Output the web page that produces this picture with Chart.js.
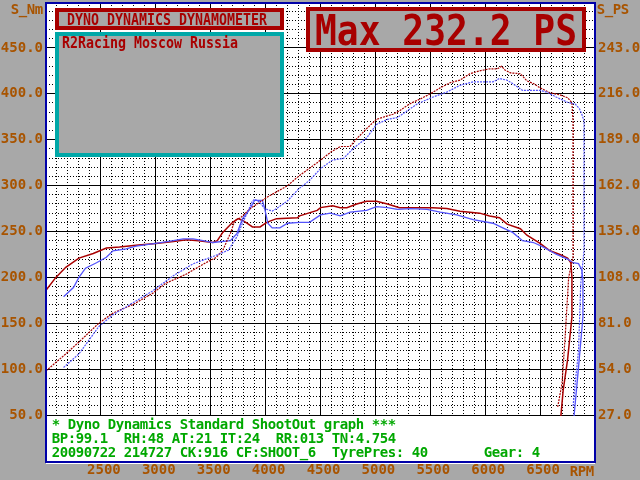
<!DOCTYPE html>
<html>
<head>
<meta charset="utf-8">
<script src="https://cdn.jsdelivr.net/npm/chart.js@4.4.0/dist/chart.umd.min.js"></script>
<style>
  html, body { margin: 0; padding: 0; background: #a8a8a8; }
</style>
</head>
<body>
<canvas id="dyno" width="640" height="480"></canvas>
<script>
// axis ranges
const rpmMin = 2000, rpmMax = 7000;
const nmMax = 500, psMax = 270;

// red run, torque (Nm) - solid
const redTqRpm = [2000,2090,2180,2300,2430,2550,2670,2820,3000,3160,3280,3390,3520,3560,3610,3700,3750,3790,3830,3880,3950,4010,4100,4290,4310,4470,4500,4610,4680,4740,4830,4920,5010,5110,5220,5410,5520,5650,5770,5950,6040,6130,6200,6320,6380,6500,6590,6680,6750,6780,6790,6790,6750,6710,6690,6680];
const redTqNm  = [186,200,211,221,226,232,233,235,237,239,241,240,238,240,249,260,264,262,259,255,255,260,264,265,267,273,276,278,276,276,280,283,283,280,276,276,276,275,272,270,267,265,258,253,246,237,229,225,221,216,200,157,110,77,50,40];

// blue run, torque (Nm) - solid
const blueTqRpm = [2160,2250,2300,2360,2460,2550,2610,2730,2820,3000,3160,3250,3340,3430,3520,3680,3740,3790,3860,3900,3970,3990,4020,4060,4130,4200,4310,4400,4500,4590,4680,4770,4920,5010,5110,5200,5320,5470,5590,5740,5890,6070,6160,6250,6340,6440,6530,6650,6750,6800,6850,6880,6890,6890,6850,6810,6800];
const blueTqNm  = [179,189,200,210,216,222,229,231,234,237,240,242,242,240,238,240,248,264,275,284,284,276,259,254,254,259,260,260,268,270,267,271,273,277,276,274,275,274,271,268,263,259,254,249,240,238,233,225,220,216,215,208,197,157,102,50,40];

// red run, power (PS) - dotted
const redPwRpm = [2000,2180,2300,2480,2610,2790,2970,3090,3280,3460,3550,3610,3680,3720,3770,3860,4010,4200,4310,4470,4600,4680,4770,4830,4920,5010,5110,5160,5220,5310,5410,5500,5590,5680,5770,5860,5950,6040,6110,6150,6180,6230,6290,6320,6380,6440,6500,6590,6680,6750,6790,6800,6800,6760,6730,6700,6660];
const redPwPs  = [53,63,70,81,87,92,98.6,104.5,110,116.8,119.7,124,134,141.5,143,148.5,155,162,168,175.5,182,185,185,189.6,195.5,201,203,204,206,210,213,216,219.5,222.5,224,227.8,229.5,230.7,230.7,232.2,230,228.3,228,227.8,223.6,222,219.5,216.6,215.4,213.7,210.7,200,120,108,75,45.8,31.7];

// blue run, power (PS) - dotted
const bluePwRpm = [2160,2300,2480,2610,2790,2970,3160,3340,3550,3660,3740,3790,3840,3880,3900,3950,3990,4060,4100,4200,4300,4400,4500,4610,4710,4800,4920,5010,5110,5200,5290,5380,5520,5650,5770,5890,6070,6130,6200,6250,6340,6410,6500,6560,6650,6750,6820,6860,6880,6900,6900,6870,6850,6820,6800];
const bluePwPs  = [55,63,79,86,93,100,109,116,121,124,132,140,147,153,154,152,148.5,147,148.5,153,160,165,172,177,178,184,190,198,201,202,206,210,214,217,221,223,223,225,224,222,218,218,218,217,214,211,210,207,204,200,124,104,65,46,32];

// texts
const titleText = 'DYNO DYNAMICS DYNAMOMETER';
const customerText = 'R2Racing Moscow Russia';
const maxText = 'Max 232.2 PS';
const infoLines = [
  '* Dyno Dynamics Standard ShootOut graph ***',
  'BP:99.1  RH:48 AT:21 IT:24  RR:013 TN:4.754',
  '20090722 214727 CK:916 CF:SHOOT_6  TyrePres: 40       Gear: 4'
];

const RED = '#a80000', BLUE = '#5454fc', GREEN = '#00a800', TEAL = '#00a8a8';
const BROWN = '#a85400', FRAME = '#0000a8', GREY = '#a8a8a8';
const MONO = '"DejaVu Sans Mono", monospace';

function pts(xs, ys){
  return xs.map((x, i) => ({x: x, y: ys[i]}));
}

// draw text on a fixed 8px character grid, like the dyno screen
function monoText(ctx, text, x0, base, pitch){
  ctx.textAlign = 'center';
  for(let i = 0; i < text.length; i++){
    if(text[i] !== ' ') ctx.fillText(text[i], x0 + i*pitch + pitch/2, base);
  }
}

function box(ctx, x, y, w, h, bw, col){
  ctx.fillStyle = col;
  ctx.fillRect(x, y, w, h);
  ctx.fillStyle = GREY;
  ctx.fillRect(x+bw, y+bw, w-2*bw, h-2*bw);
}

function noPad(s){
  s.paddingTop = 0; s.paddingBottom = 0;
  s.paddingLeft = 0; s.paddingRight = 0;
}

const dynoDecor = {
  id: 'dynoDecor',
  beforeDraw(chart){
    const {ctx, chartArea: a} = chart;
    ctx.save();
    ctx.fillStyle = GREY;
    ctx.fillRect(0, 0, chart.width, chart.height);
    ctx.fillStyle = '#ffffff';
    ctx.fillRect(a.left, a.top, a.right - a.left, a.bottom - a.top);
    ctx.restore();
  },
  afterDatasetsDraw(chart){
    const {ctx, chartArea: a, scales} = chart;
    const y50 = Math.round(scales.y.getPixelForValue(50));
    ctx.save();

    // info panel at the bottom
    ctx.fillStyle = '#ffffff';
    ctx.fillRect(a.left, y50 + 1, a.right - a.left, a.bottom - y50 + 2);
    ctx.fillStyle = GREEN;
    ctx.font = 'bold 14px ' + MONO;
    ctx.textBaseline = 'alphabetic';
    infoLines.forEach((l, i) => monoText(ctx, l, 52, 429 + i*14, 8));

    // header boxes
    box(ctx, 55, 8, 229, 22, 4, RED);
    box(ctx, 55, 32, 229, 125, 4, TEAL);
    box(ctx, 306, 7, 280, 45, 4, RED);
    ctx.fillStyle = RED;
    ctx.textAlign = 'left';
    ctx.font = 'bold 16px ' + MONO;
    ctx.fillText(titleText, 67, 25, 200);
    ctx.font = 'bold 15px ' + MONO;
    ctx.fillText(customerText, 62, 48, 176);
    ctx.font = 'bold 42px ' + MONO;
    ctx.fillText(maxText, 315, 45, 262);

    // blue frame
    ctx.strokeStyle = FRAME;
    ctx.lineWidth = 2;
    ctx.strokeRect(46, 3, 549, 459);

    // axis names
    ctx.fillStyle = BROWN;
    ctx.font = 'bold 14px ' + MONO;
    monoText(ctx, 'S_Nm', 11, 14, 8);
    monoText(ctx, 'S_PS', 597, 14, 8);
    monoText(ctx, 'RPM', 570, 476, 8);
    ctx.restore();
  }
};

const tickFont = {family: 'DejaVu Sans Mono', size: 14, weight: 'bold'};
const minorDash = c => (c.tick && Math.round(c.tick.value) % (c.scale.axis === 'x' ? 500 : 50) !== 0) ? [1, 2] : [];

const ctx = document.getElementById('dyno').getContext('2d');
new Chart(ctx, {
  type: 'line',
  data: {
    datasets: [
      {data: pts(bluePwRpm, bluePwPs), yAxisID: 'y1', borderColor: BLUE, borderWidth: 1.2, borderDash: [2, 1]},
      {data: pts(redPwRpm, redPwPs), yAxisID: 'y1', borderColor: RED, borderWidth: 1.2, borderDash: [2, 1]},
      {data: pts(blueTqRpm, blueTqNm), yAxisID: 'y', borderColor: BLUE, borderWidth: 1.3},
      {data: pts(redTqRpm, redTqNm), yAxisID: 'y', borderColor: RED, borderWidth: 1.5}
    ]
  },
  options: {
    responsive: false,
    animation: false,
    devicePixelRatio: 1,
    layout: {padding: {top: 2, left: 0, right: 0, bottom: 0}},
    elements: {point: {radius: 0}, line: {tension: 0, fill: false}},
    plugins: {legend: {display: false}, tooltip: {enabled: false}},
    scales: {
      x: {
        type: 'linear', min: rpmMin, max: rpmMax,
        afterFit: s => { s.height = 19; noPad(s); },
        ticks: {
          stepSize: 100, autoSkip: false, maxRotation: 0, minRotation: 0,
          padding: 1, labelOffset: 3, color: BROWN, font: tickFont,
          callback: v => (v % 500 === 0 && v > rpmMin && v < rpmMax) ? String(v) : ''
        },
        grid: {color: '#000000', lineWidth: 1, drawTicks: false},
        border: {display: false, dash: minorDash}
      },
      y: {
        position: 'left', min: 0, max: nmMax,
        afterFit: s => { s.width = 46; noPad(s); },
        ticks: {
          stepSize: 10, autoSkip: false, padding: 3, color: BROWN, font: tickFont,
          callback: v => (Math.round(v) % 50 === 0 && v > 0 && v < nmMax) ? v.toFixed(1) : ''
        },
        grid: {color: '#000000', lineWidth: 1, drawTicks: false},
        border: {display: false, dash: minorDash}
      },
      y1: {
        position: 'right', min: 0, max: psMax,
        afterFit: s => { s.width = 45; noPad(s); },
        ticks: {
          stepSize: 27, autoSkip: false, padding: 3, color: BROWN, font: tickFont,
          callback: v => (v > 0 && v < psMax) ? v.toFixed(1) : ''
        },
        grid: {drawOnChartArea: false, drawTicks: false},
        border: {display: false}
      }
    }
  },
  plugins: [dynoDecor]
});
</script>
</body>
</html>
